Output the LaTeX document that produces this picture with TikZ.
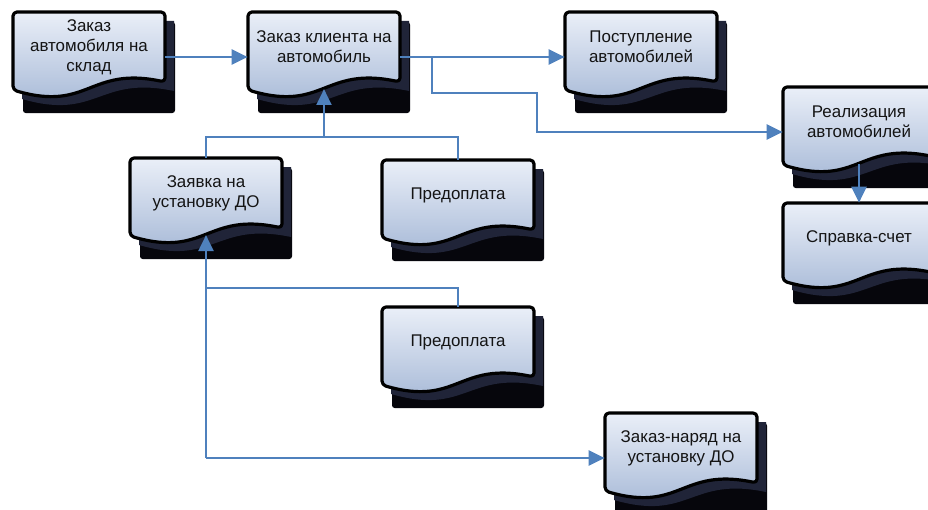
\documentclass[tikz,border=0pt]{standalone}
\usepackage{fontspec}
\setmainfont{Liberation Sans}
\usetikzlibrary{arrows.meta,calc}
\definecolor{conncol}{RGB}{79,129,189}
\definecolor{fillTop}{RGB}{234,239,248}
\definecolor{fillBot}{RGB}{163,182,213}
\definecolor{shadowA}{RGB}{6,6,12}
\definecolor{shadowB}{RGB}{32,36,56}
\definecolor{txt}{RGB}{20,20,20}
\tikzset{
  docframe/.style={draw=black, line width=2.4pt, top color=fillTop, bottom color=fillBot, line join=round},
  docshadow/.style={fill=shadowA, rounded corners=2pt},
  docshadowin/.style={fill=shadowB},
  docanchor/.style={rectangle, inner sep=0pt, minimum width=114pt, minimum height=67.5pt},
  doctext/.style={align=center, text=txt, font=\fontsize{12.7}{15}\selectfont, inner sep=0pt},
  link/.style={draw=conncol, line width=2.2pt},
  conn/.style={link, -{Triangle[length=12pt,width=11pt]}},
}
\newcommand\docbox[4]{%
  \fill[docshadow] (#2+10,#3+10) rectangle (#2+162,#3+101);
  \fill[docshadowin] (#2+9,#3+9) -- (#2+161,#3+9) -- (#2+161,#3+79)
     .. controls (#2+85,#3+63) and (#2+85,#3+109) .. (#2+9,#3+87) -- cycle;
  \path[docframe, rounded corners=3pt] (#2+76,#3) -- (#2+152,#3) -- (#2+152,#3+70)
     .. controls (#2+76,#3+54) and (#2+76,#3+100) .. (#2,#3+78) -- (#2,#3) -- cycle;
  \node[docanchor] (#1) at (#2+76,#3+45) {};
  \node[doctext] (#1-t) at (#2+76,#3+35) {#4};
  \coordinate (#1-b) at (#2+76,#3+77);
}
\begin{document}
\begin{tikzpicture}[x=0.75pt,y=-0.75pt]
\useasboundingbox (0,0) rectangle (928,510);
\clip (0,0) rectangle (928,510);
\fill[white] (0,0) rectangle (928,510);
\docbox{d1}{13}{12}{Заказ\\автомобиля на\\склад}
\docbox{d2}{248}{12}{Заказ клиента на\\автомобиль}
\docbox{d3}{565}{12}{Поступление\\автомобилей}
\docbox{d4}{783}{87}{Реализация\\автомобилей}
\docbox{d5}{783}{203}{Справка-счет}
\docbox{d6}{130}{158}{Заявка на\\установку ДО}
\docbox{d7}{382}{160}{Предоплата}
\docbox{d8}{382}{307}{Предоплата}
\docbox{d9}{605}{413}{Заказ-наряд на\\установку ДО}
\coordinate (j1) at (432,93);
\coordinate (j2) at (537,93);
\coordinate (bus1) at (324,137);
\coordinate (bus2) at (206,458);
\coordinate (bus3) at (206,288);
\draw[conn] (d1.east) -- (d2.west);
\draw[conn] (d2.east) -- (d3.west);
\draw[conn] (d2.east) -| (j1) -- (j2) |- (d4.west);
\draw[link] (d6.north) |- (bus1) -| (d7.north);
\draw[conn] (bus1) -- (d2-b);
\draw[conn] (d4-b) -- (d5.north);
\draw[conn] (bus2) -- (d6-b);
\draw[link] (d8.north) |- (bus3);
\draw[conn] (bus2) -- (d9.west);
\end{tikzpicture}
\end{document}
